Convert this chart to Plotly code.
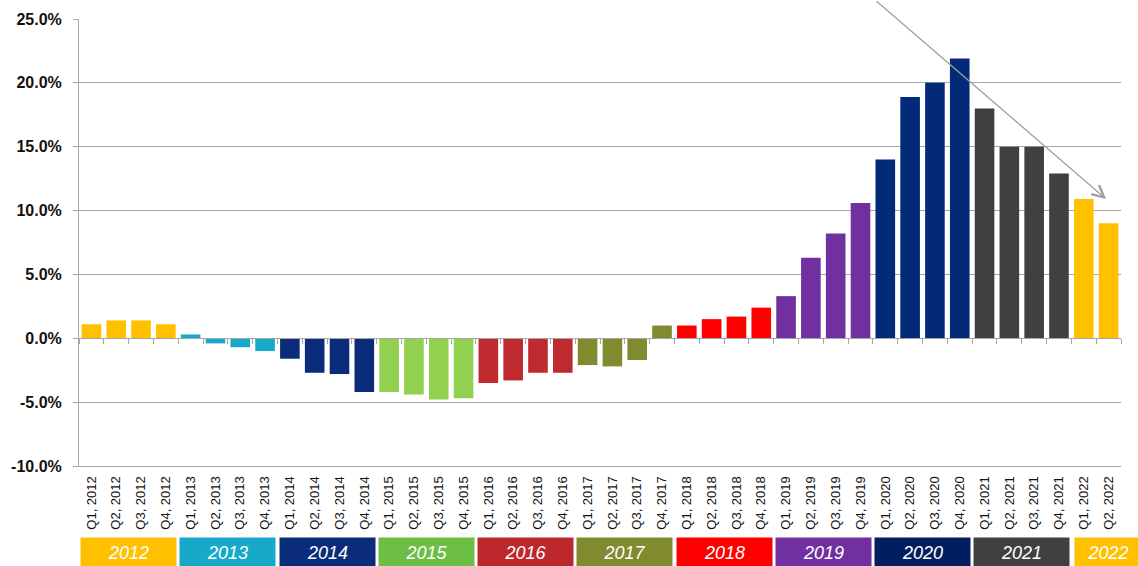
import plotly.graph_objects as go

# Quarterly change, 2012 Q1 to 2022 Q2 (percent)
years = ["2012", "2013", "2014", "2015", "2016", "2017",
         "2018", "2019", "2020", "2021", "2022"]
quarters_per_year = [4, 4, 4, 4, 4, 4, 4, 4, 4, 4, 2]

values_2012 = [1.1, 1.4, 1.4, 1.1]
values_2013 = [0.3, -0.4, -0.7, -1.0]
values_2014 = [-1.6, -2.7, -2.8, -4.2]
values_2015 = [-4.2, -4.4, -4.8, -4.7]
values_2016 = [-3.5, -3.3, -2.7, -2.7]
values_2017 = [-2.1, -2.2, -1.7, 1.0]
values_2018 = [1.0, 1.5, 1.7, 2.4]
values_2019 = [3.3, 6.3, 8.2, 10.6]
values_2020 = [14.0, 18.9, 20.0, 21.9]
values_2021 = [18.0, 15.0, 15.0, 12.9]
values_2022 = [10.9, 9.0]

yearly_values = [values_2012, values_2013, values_2014, values_2015,
                 values_2016, values_2017, values_2018, values_2019,
                 values_2020, values_2021, values_2022]

bar_colors = ["#FFC000", "#17A9C9", "#0B2C7A", "#92D050", "#BE2A2E",
              "#7F8B2E", "#FF0000", "#7030A0", "#022A78", "#404040",
              "#FFC000"]
box_colors = ["#FFC000", "#17A9C9", "#0B2C7A", "#6DBE45", "#BD282C",
              "#7F8B2E", "#FF0000", "#7030A0", "#031E5E", "#404040",
              "#FFC000"]

y_ticks = [-10, -5, 0, 5, 10, 15, 20, 25]
y_tick_labels = [f"{v:.1f}%" for v in y_ticks]

# Flatten into category labels / values / colours
categories, values, colors = [], [], []
for yr, n, vals, col in zip(years, quarters_per_year, yearly_values, bar_colors):
    for q in range(n):
        categories.append(f"Q{q + 1}, {yr}")
        values.append(vals[q])
        colors.append(col)

FONT = "Arial, Liberation Sans, sans-serif"
GRID = "#A6A6A6"

fig = go.Figure()
fig.add_trace(go.Bar(
    x=categories, y=values, marker=dict(color=colors, line=dict(width=0)),
    hoverinfo="x+y", showlegend=False,
))
# Helper trace that carries the zero-line axis with boundary ticks
fig.add_trace(go.Scatter(
    x=categories, y=[0] * len(categories), xaxis="x2", mode="markers",
    marker=dict(opacity=0), hoverinfo="skip", showlegend=False,
))

fig.update_layout(
    width=1138, height=566,
    margin=dict(l=79, r=17, t=19, b=100),
    paper_bgcolor="white", plot_bgcolor="white",
    bargap=0.21,
    xaxis=dict(
        type="category", categoryorder="array", categoryarray=categories,
        range=[-0.5, len(categories) - 0.5],
        tickangle=-90, tickfont=dict(family=FONT, size=13, color="#111111"),
        showline=True, linecolor=GRID, linewidth=1, ticks="",
        showgrid=False, ticklabelstandoff=4,
    ),
    xaxis2=dict(
        type="category", categoryorder="array", categoryarray=categories,
        range=[-0.5, len(categories) - 0.5],
        overlaying="x", anchor="free", position=10 / 35,
        showticklabels=False, showline=True, linecolor=GRID, linewidth=1,
        ticks="outside", tickson="boundaries", ticklen=5, tickcolor=GRID,
        showgrid=False,
    ),
    yaxis=dict(
        range=[-10, 25], tickmode="array", tickvals=y_ticks,
        ticktext=y_tick_labels,
        tickfont=dict(family=FONT, size=16, color="#111111", weight="bold"),
        showline=True, linecolor=GRID, linewidth=1,
        ticks="outside", ticklen=5, tickcolor=GRID, ticklabelstandoff=8,
        showgrid=True, gridcolor=GRID, gridwidth=1, zeroline=False,
    ),
)

# Year bands beneath the quarter labels
start = 0
for yr, n, col in zip(years, quarters_per_year, box_colors):
    if n == 4:
        fig.add_annotation(
            x=start + (n - 1) / 2, xref="x", y=-0.158, yref="paper",
            xanchor="center", yanchor="top", showarrow=False,
            text=yr, width=95, height=30, bgcolor=col, borderpad=0,
            font=dict(family=FONT, size=18, color="white", style="italic"),
        )
    else:
        fig.add_annotation(
            x=start - 0.5, xref="x", y=-0.158, yref="paper",
            xanchor="left", yanchor="top", showarrow=False, xshift=3,
            text=yr, width=66, height=30, bgcolor=col, borderpad=0,
            font=dict(family=FONT, size=18, color="white", style="italic"),
        )
    start += n

# Downward trend arrow from the 2020 peak
fig.add_annotation(
    x=40.9, xref="x", y=10.9, yref="y", ax=-231, ay=-205,
    showarrow=True, arrowhead=5, arrowsize=1.8, arrowwidth=1.3,
    arrowcolor="#A0A0A0", standoff=0, text="",
)

fig.write_html("out.html")
